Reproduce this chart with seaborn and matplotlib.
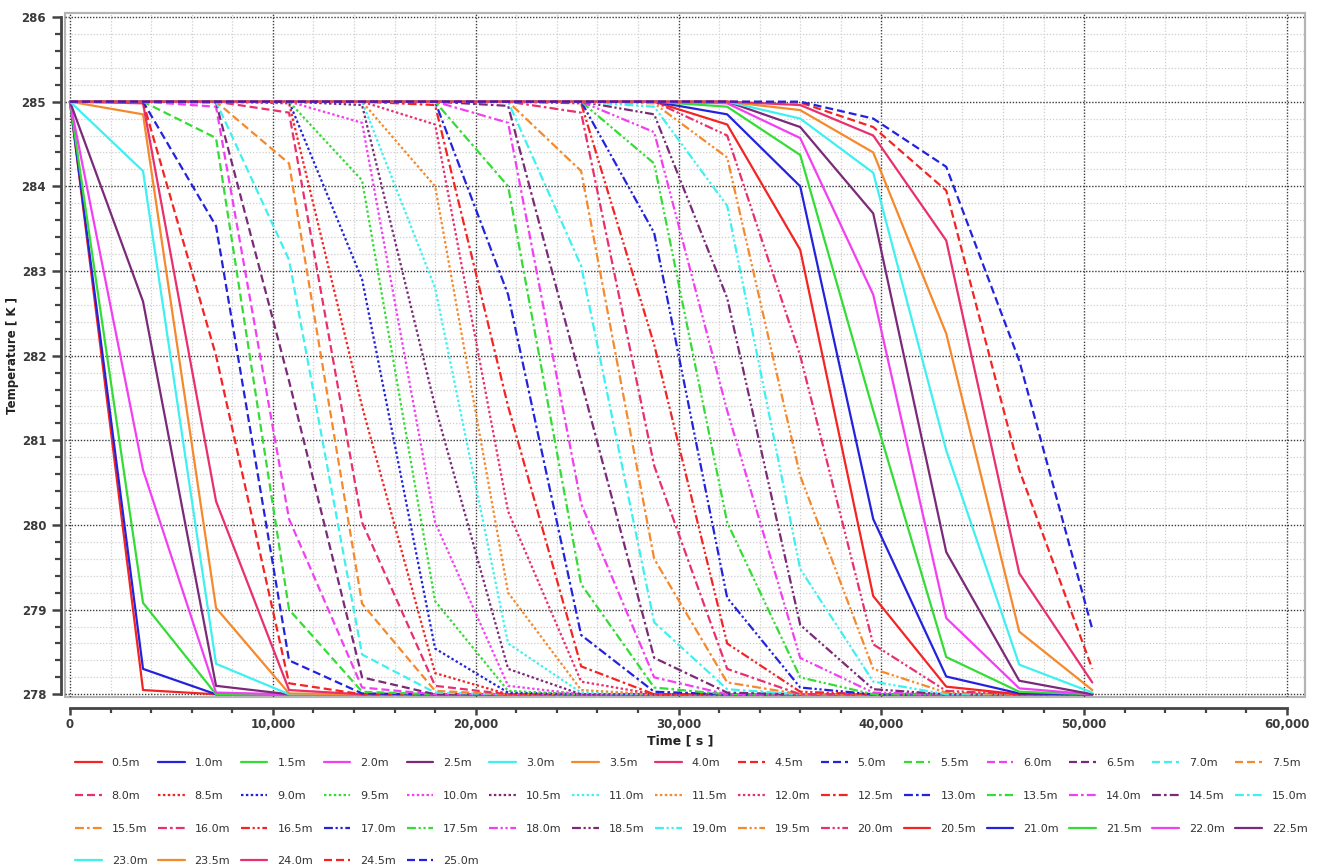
import numpy as np
import pandas as pd
import matplotlib
matplotlib.use("Agg")
import matplotlib.pyplot as plt
import seaborn as sns
from matplotlib.ticker import MultipleLocator, FuncFormatter
from matplotlib.patches import Rectangle

# ---------------- data ----------------
time_s = [0, 3600, 7200, 10800, 14400, 18000, 21600, 25200,
          28800, 32400, 36000, 39600, 43200, 46800, 50400]

depth_labels = ["0.5m", "1.0m", "1.5m", "2.0m", "2.5m", "3.0m", "3.5m", "4.0m",
                "4.5m", "5.0m", "5.5m", "6.0m", "6.5m", "7.0m", "7.5m", "8.0m",
                "8.5m", "9.0m", "9.5m", "10.0m", "10.5m", "11.0m", "11.5m", "12.0m",
                "12.5m", "13.0m", "13.5m", "14.0m", "14.5m", "15.0m", "15.5m", "16.0m",
                "16.5m", "17.0m", "17.5m", "18.0m", "18.5m", "19.0m", "19.5m", "20.0m",
                "20.5m", "21.0m", "21.5m", "22.0m", "22.5m", "23.0m", "23.5m", "24.0m",
                "24.5m", "25.0m"]

# temperature [K] of every depth (0.5m ... 25.0m) at each time step
T_00h = [285, 285, 285, 285, 285, 285, 285, 285, 285, 285,
         285, 285, 285, 285, 285, 285, 285, 285, 285, 285,
         285, 285, 285, 285, 285, 285, 285, 285, 285, 285,
         285, 285, 285, 285, 285, 285, 285, 285, 285, 285,
         285, 285, 285, 285, 285, 285, 285, 285, 285, 285]
T_01h = [278.05, 278.3, 279.08, 280.65, 282.64, 284.18, 284.85, 284.98, 285, 285,
         285, 285, 285, 285, 285, 285, 285, 285, 285, 285,
         285, 285, 285, 285, 285, 285, 285, 285, 285, 285,
         285, 285, 285, 285, 285, 285, 285, 285, 285, 285,
         285, 285, 285, 285, 285, 285, 285, 285, 285, 285]
T_02h = [278, 278, 278, 278.02, 278.1, 278.36, 279.02, 280.28, 282.0, 283.53,
         284.57, 284.94, 284.99, 285, 285, 285, 285, 285, 285, 285,
         285, 285, 285, 285, 285, 285, 285, 285, 285, 285,
         285, 285, 285, 285, 285, 285, 285, 285, 285, 285,
         285, 285, 285, 285, 285, 285, 285, 285, 285, 285]
T_03h = [278, 278, 278, 278, 278, 278, 278.01, 278.05, 278.13, 278.4,
         279.0, 280.07, 281.7, 283.13, 284.27, 284.87, 284.98, 285, 285, 285,
         285, 285, 285, 285, 285, 285, 285, 285, 285, 285,
         285, 285, 285, 285, 285, 285, 285, 285, 285, 285,
         285, 285, 285, 285, 285, 285, 285, 285, 285, 285]
T_04h = [278, 278, 278, 278, 278, 278, 278, 278, 278, 278.01,
         278.03, 278.08, 278.2, 278.47, 279.07, 280.03, 281.4, 282.9, 284.07, 284.75,
         284.96, 285, 285, 285, 285, 285, 285, 285, 285, 285,
         285, 285, 285, 285, 285, 285, 285, 285, 285, 285,
         285, 285, 285, 285, 285, 285, 285, 285, 285, 285]
T_05h = [278, 278, 278, 278, 278, 278, 278, 278, 278, 278,
         278, 278, 278, 278.02, 278.04, 278.1, 278.25, 278.54, 279.1, 280.03,
         281.4, 282.8, 284.0, 284.73, 284.96, 285, 285, 285, 285, 285,
         285, 285, 285, 285, 285, 285, 285, 285, 285, 285,
         285, 285, 285, 285, 285, 285, 285, 285, 285, 285]
T_06h = [278, 278, 278, 278, 278, 278, 278, 278, 278, 278,
         278, 278, 278, 278, 278, 278, 278, 278.02, 278.04, 278.1,
         278.3, 278.6, 279.2, 280.16, 281.4, 282.72, 284.0, 284.75, 284.95, 285,
         285, 285, 285, 285, 285, 285, 285, 285, 285, 285,
         285, 285, 285, 285, 285, 285, 285, 285, 285, 285]
T_07h = [278, 278, 278, 278, 278, 278, 278, 278, 278, 278,
         278, 278, 278, 278, 278, 278, 278, 278, 278, 278,
         278, 278.02, 278.05, 278.15, 278.33, 278.7, 279.3, 280.25, 281.7, 283.06,
         284.18, 284.87, 284.98, 285, 285, 285, 285, 285, 285, 285,
         285, 285, 285, 285, 285, 285, 285, 285, 285, 285]
T_08h = [278, 278, 278, 278, 278, 278, 278, 278, 278, 278,
         278, 278, 278, 278, 278, 278, 278, 278, 278, 278,
         278, 278, 278, 278, 278, 278.03, 278.08, 278.2, 278.43, 278.85,
         279.6, 280.7, 282.13, 283.45, 284.27, 284.64, 284.85, 284.94, 284.98, 285,
         285, 285, 285, 285, 285, 285, 285, 285, 285, 285]
T_09h = [278, 278, 278, 278, 278, 278, 278, 278, 278, 278,
         278, 278, 278, 278, 278, 278, 278, 278, 278, 278,
         278, 278, 278, 278, 278, 278, 278, 278, 278.02, 278.06,
         278.14, 278.3, 278.6, 279.14, 280.03, 281.35, 282.68, 283.77, 284.34, 284.6,
         284.73, 284.85, 284.94, 284.98, 285, 285, 285, 285, 285, 285]
T_10h = [278, 278, 278, 278, 278, 278, 278, 278, 278, 278,
         278, 278, 278, 278, 278, 278, 278, 278, 278, 278,
         278, 278, 278, 278, 278, 278, 278, 278, 278, 278,
         278, 278, 278.03, 278.08, 278.2, 278.43, 278.82, 279.48, 280.58, 282.0,
         283.25, 284.0, 284.37, 284.57, 284.7, 284.8, 284.9, 284.96, 284.99, 285]
T_11h = [278, 278, 278, 278, 278, 278, 278, 278, 278, 278,
         278, 278, 278, 278, 278, 278, 278, 278, 278, 278,
         278, 278, 278, 278, 278, 278, 278, 278, 278, 278,
         278, 278, 278, 278, 278, 278.02, 278.06, 278.15, 278.3, 278.59,
         279.16, 280.07, 281.35, 282.72, 283.68, 284.16, 284.4, 284.6, 284.7, 284.8]
T_12h = [278, 278, 278, 278, 278, 278, 278, 278, 278, 278,
         278, 278, 278, 278, 278, 278, 278, 278, 278, 278,
         278, 278, 278, 278, 278, 278, 278, 278, 278, 278,
         278, 278, 278, 278, 278, 278, 278, 278, 278.02, 278.04,
         278.09, 278.21, 278.44, 278.9, 279.68, 280.88, 282.26, 283.36, 283.95, 284.23]
T_13h = [278, 278, 278, 278, 278, 278, 278, 278, 278, 278,
         278, 278, 278, 278, 278, 278, 278, 278, 278, 278,
         278, 278, 278, 278, 278, 278, 278, 278, 278, 278,
         278, 278, 278, 278, 278, 278, 278, 278, 278, 278,
         278, 278.01, 278.03, 278.07, 278.16, 278.35, 278.74, 279.43, 280.65, 281.94]
T_14h = [278, 278, 278, 278, 278, 278, 278, 278, 278, 278,
         278, 278, 278, 278, 278, 278, 278, 278, 278, 278,
         278, 278, 278, 278, 278, 278, 278, 278, 278, 278,
         278, 278, 278, 278, 278, 278, 278, 278, 278, 278,
         278, 278, 278, 278, 278, 278.02, 278.05, 278.14, 278.3, 278.77]

temps_by_time = [T_00h, T_01h, T_02h, T_03h, T_04h, T_05h, T_06h, T_07h,
                 T_08h, T_09h, T_10h, T_11h, T_12h, T_13h, T_14h]

# ---------------- style ----------------
line_colors = ["#f42424", "#2323dd", "#35dc35", "#f23ff2",
               "#7a2a78", "#3ff0f0", "#f5892c", "#e8306e"]
# solid, dashed, dotted, dash-dot, dash-dot-dot (in units of line width)
line_dashes = [None, (3.6, 1.8), (1.1, 1.1), (4.0, 1.4, 1.2, 1.4),
               (4.0, 1.2, 1.0, 1.2, 1.0, 1.2)]

rows = []
for t, temps in zip(time_s, temps_by_time):
    for lab, v in zip(depth_labels, temps):
        rows.append((t, lab, v))
df = pd.DataFrame(rows, columns=["time", "depth", "temp"])

sns.set_theme(style="white")
plt.rcParams["font.family"] = ["DejaVu Sans"]

fig = plt.figure(figsize=(13.18, 8.65), dpi=100)
L, R, T, B = 65, 1305, 13, 697
ax = fig.add_axes([L / 1318, 1 - B / 865, (R - L) / 1318, (B - T) / 865])

for i, lab in enumerate(depth_labels):
    sub = df[df["depth"] == lab]
    sns.lineplot(data=sub, x="time", y="temp", ax=ax, color=line_colors[i % 8],
                 linewidth=1.6, estimator=None, errorbar=None, legend=False,
                 label=lab)
    d = line_dashes[(i // 8) % 5]
    if d is not None:
        ax.lines[-1].set_dashes(d)

ax.set_xlim(-246.5, 60887)
ax.set_ylim(277.968, 286.047)
ax.xaxis.set_major_locator(MultipleLocator(10000))
ax.xaxis.set_minor_locator(MultipleLocator(2000))
ax.yaxis.set_major_locator(MultipleLocator(1))
ax.yaxis.set_minor_locator(MultipleLocator(0.2))
ax.xaxis.set_major_formatter(FuncFormatter(lambda v, p: f"{int(round(v)):,}"))
ax.yaxis.set_major_formatter(FuncFormatter(lambda v, p: f"{int(round(v))}"))

ax.grid(which="minor", color="#cfcfcf", linestyle=(0, (1, 1.5)), linewidth=0.9)
ax.grid(which="major", color="#3c3c3c", linestyle=(0, (1, 1.2)), linewidth=1.0)
ax.set_axisbelow(True)

for s in ["top", "right"]:
    ax.spines[s].set_color("#b4b4b4")
    ax.spines[s].set_linewidth(1.5)
ax.spines["left"].set_position(("outward", 3))
ax.spines["bottom"].set_position(("outward", 8))
ax.spines["left"].set_bounds(278, 286)
ax.spines["bottom"].set_bounds(0, 60000)
for s in ["left", "bottom"]:
    ax.spines[s].set_color("#444444")
    ax.spines[s].set_linewidth(2.0)
ax.add_patch(Rectangle((0, 0), 1, 1, transform=ax.transAxes, fill=False,
                       edgecolor="#b4b4b4", linewidth=1.5, clip_on=False, zorder=0.5))

ax.tick_params(axis="y", which="major", direction="out", length=6.5, width=1.8,
               color="#444444", labelsize=8.5, labelcolor="#3a3a3a", pad=4, left=True)
ax.tick_params(axis="y", which="minor", direction="out", length=4.3, width=1.6,
               color="#444444", left=True)
ax.tick_params(axis="x", which="major", direction="out", length=5, width=1.8,
               color="#444444", labelsize=8.5, labelcolor="#3a3a3a", pad=2, bottom=True)
ax.tick_params(axis="x", which="minor", direction="out", length=3.5, width=1.6,
               color="#444444", bottom=True)
for lbl in ax.get_xticklabels() + ax.get_yticklabels():
    lbl.set_fontweight("bold")

ax.set_xlabel("Time [ s ]", fontsize=9, fontweight="bold", color="#222222")
ax.set_ylabel("Temperature [ K ]", fontsize=8.5, fontweight="bold", color="#222222")
ax.xaxis.set_label_coords((680 - L) / (R - L), (B - 734) / (B - T))
ax.yaxis.set_label_coords((19 - L) / (R - L), 0.5)

# legend: row-major ordering in 15 columns
handles = ax.lines[:len(depth_labels)]
order = []
ncol = 15
for c in range(ncol):
    for r in range(4):
        k = r * ncol + c
        if k < len(depth_labels):
            order.append(k)
fig.legend([handles[k] for k in order], [depth_labels[k] for k in order],
           ncol=ncol, loc="upper left", bbox_to_anchor=(75 / 1318, 1 - 758 / 865),
           frameon=False, fontsize=8, handlelength=2.4, handletextpad=0.9,
           columnspacing=0.95, labelspacing=2.05, borderpad=0, borderaxespad=0,
           labelcolor="#333333")

fig.savefig("out.png", dpi=100)
